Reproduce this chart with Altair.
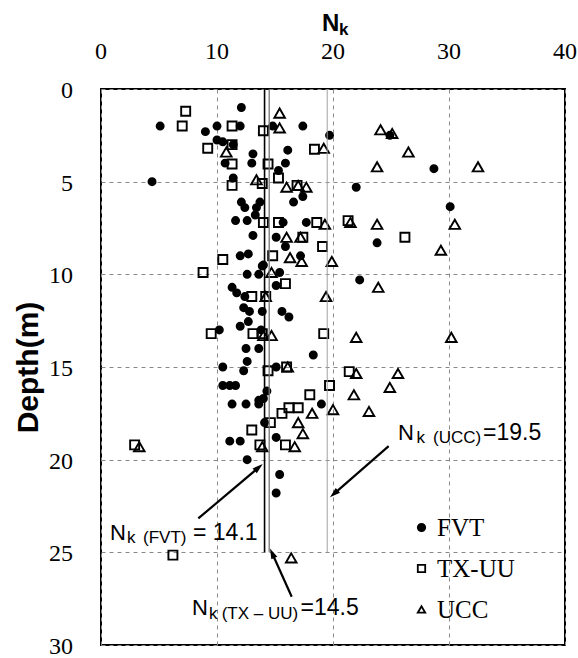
import altair as alt
import numpy as np
import pandas as pd

# ---------------- data ----------------
fvt_nk = [12.1, 5.1, 10.0, 9.0, 12.0, 14.8, 17.4, 10.0, 10.5, 11.4, 13.1, 16.1, 10.7, 13.0, 15.9,
          15.3, 4.4, 11.4, 17.4, 16.6, 12.1, 13.7, 12.4, 13.4, 13.3, 11.6, 12.6, 15.7, 17.7, 13.1,
          15.1, 15.9, 12.0, 12.7, 17.2, 14.0, 12.6, 13.6, 15.4, 19.7, 24.9, 28.7, 22.0, 30.1, 23.8,
          22.3, 11.3, 11.7, 15.1, 12.4, 12.3, 12.8, 13.9, 15.6, 16.2, 12.7, 12.0, 10.2, 13.8, 12.5,
          13.6, 18.3, 12.6, 12.3, 10.5, 15.1, 10.5, 11.1, 11.6, 14.3, 11.3, 12.5, 13.6, 14.0, 13.6,
          19.0, 14.1, 15.1, 11.1, 12.0, 12.6, 15.4, 15.1, 13.9]
fvt_depth = [1.0, 2.0, 2.0, 2.3, 2.0, 2.0, 2.0, 2.75, 2.85, 3.0, 3.5, 3.3, 4.0, 4.0, 4.0,
             4.4, 5.0, 4.8, 5.8, 6.1, 6.1, 6.1, 6.4, 6.4, 6.8, 7.1, 7.1, 7.2, 7.2, 7.9,
             8.0, 8.5, 9.0, 8.9, 9.0, 9.5, 10.0, 10.0, 9.9, 2.5, 2.5, 4.3, 5.3, 6.35, 8.3,
             10.3, 10.7, 11.0, 10.6, 11.2, 11.8, 12.0, 12.0, 12.0, 12.3, 12.55, 12.8, 13.0, 13.0, 14.0,
             14.0, 14.35, 14.7, 15.2, 15.0, 15.0, 16.0, 16.0, 16.0, 16.3, 17.0, 17.0, 16.8, 16.7, 17.0,
             17.0, 18.0, 18.8, 19.0, 19.0, 20.0, 20.8, 21.8, 9.55]

txuu_nk = [7.3, 7.0, 11.3, 14.0, 9.2, 11.3, 11.3, 14.4, 15.3, 11.3, 13.9, 16.9, 18.4, 14.0, 15.3,
           18.6, 17.4, 19.1, 14.8, 10.5, 8.8, 21.3, 26.2, 15.9, 13.0, 14.2, 9.5, 13.1, 13.9, 19.2,
           14.4, 16.0, 19.7, 18.0, 16.2, 17.0, 15.6, 14.6, 13.0, 13.7, 15.9, 2.9, 21.4, 6.2]
txuu_depth = [1.2, 2.0, 2.0, 2.25, 3.2, 3.0, 4.05, 4.05, 4.8, 5.2, 5.1, 5.2, 3.25, 7.2, 7.2,
              7.2, 8.0, 8.5, 9.0, 9.2, 9.9, 7.1, 8.0, 10.5, 11.2, 11.2, 13.2, 13.2, 13.2, 13.2,
              15.2, 15.0, 16.0, 16.5, 17.2, 17.2, 17.5, 18.0, 18.4, 19.2, 19.2, 19.2, 15.25, 25.15]

ucc_nk = [15.4, 15.4, 19.2, 10.8, 13.4, 16.0, 17.0, 17.7, 19.3, 16.0, 17.2, 16.3, 17.3, 14.7, 24.1,
          25.1, 26.5, 23.8, 32.5, 21.5, 23.8, 30.5, 29.3, 19.9, 19.4, 14.2, 14.0, 14.7, 16.1, 18.2,
          17.0, 17.4, 16.7, 13.9, 3.3, 20.0, 23.9, 22.0, 30.2, 22.0, 25.6, 24.9, 21.8, 23.1, 16.4]
ucc_depth = [1.3, 2.1, 3.2, 3.4, 4.9, 5.3, 5.2, 5.3, 7.3, 8.0, 8.0, 9.1, 9.3, 9.9, 2.2,
             2.4, 3.4, 4.2, 4.2, 7.2, 7.3, 7.3, 8.7, 9.3, 11.2, 11.2, 13.3, 13.3, 15.0, 17.5,
             18.0, 18.6, 19.3, 19.3, 19.3, 17.3, 10.7, 13.4, 13.4, 15.35, 15.35, 16.1, 16.5, 17.4, 25.3]

series_names = ["FVT", "TX-UU", "UCC"]

# average Nk lines
nk_line_values = [14.1, 14.5, 19.5]
nk_line_top = [0, 0, 0]
nk_line_bottom = [25, 25, 25]
nk_line_colors = ["black", "#777777", "#a0a0a0"]
nk_line_widths = [1.6, 1.3, 1.0]

# annotation text pieces
ann_text = ["N", "k", "(UCC)", "=19.5",
            "N", "k", "(FVT)", "= 14.1",
            "N", "k", "(TX \u2013 UU)", "=14.5"]
ann_nk = [25.6, 27.2, 28.62, 32.93,
          0.78, 2.24, 3.62, 7.93,
          7.84, 9.31, 10.4, 17.2]
ann_depth = [18.94, 19.1, 19.1, 18.94,
             24.34, 24.5, 24.5, 24.34,
             28.39, 28.6, 28.6, 28.39]
ann_size = [22, 17, 17, 23,
            22, 17, 17, 23,
            22, 17, 17, 23]

# arrows: start -> tip
arr_nk0 = [24.8, 8.39, 16.44]
arr_d0 = [19.27, 23.17, 27.4]
arr_nk1 = [19.74, 13.94, 14.57]
arr_d1 = [22.03, 20.24, 24.79]

x_ticks = [0, 10, 20, 30, 40]
y_ticks = [0, 5, 10, 15, 20, 25, 30]

# ---------------- layout ----------------
W, H = 464, 556
SX, SY = W / 40.0, H / 30.0
HEAD_SIZE = 110
HEAD_SHAPE = "M0,-1L0.62,1L-0.62,1Z"
SERIF = "Liberation Serif"
SANS = "Liberation Sans"

df = pd.concat([
    pd.DataFrame({"nk": fvt_nk, "depth": fvt_depth, "series": "FVT"}),
    pd.DataFrame({"nk": txuu_nk, "depth": txuu_depth, "series": "TX-UU"}),
    pd.DataFrame({"nk": ucc_nk, "depth": ucc_depth, "series": "UCC"}),
], ignore_index=True)

xscale = alt.Scale(domain=[0, 40], nice=False, zero=False)
yscale = alt.Scale(domain=[0, 30], nice=False, zero=False, reverse=True)

xaxis = alt.Axis(orient="top", values=x_ticks, ticks=False, domain=False, labels=False,
                 grid=True, gridDash=[4, 4], gridColor="#8a8a8a", gridWidth=1)
yaxis = alt.Axis(values=y_ticks, ticks=False, domain=False, labels=False,
                 grid=True, gridDash=[4, 4], gridColor="#8a8a8a", gridWidth=1,
                 titleFont=SANS, titleFontSize=30, titleFontWeight="bold",
                 titleColor="black", titlePadding=58)


def X(field):
    return alt.X(field, scale=xscale, axis=xaxis, title=None)


def Y(field):
    return alt.Y(field, scale=yscale, axis=yaxis, title="Depth(m)")


legend_def = dict(
    orient="none", legendX=308, legendY=426, title=None, padding=0,
    labelFont=SERIF, labelFontSize=25, labelColor="black",
    rowPadding=15, symbolSize=55, labelOffset=3,
    symbolStrokeColor="black", symbolStrokeWidth=1.8,
)

points = alt.Chart(df).mark_point(opacity=1, strokeWidth=1.9).encode(
    x=X("nk:Q"),
    y=Y("depth:Q"),
    shape=alt.Shape("series:N", scale=alt.Scale(domain=series_names,
                                                range=["circle", "square", "triangle-up"]),
                    legend=alt.Legend(**legend_def)),
    fill=alt.Fill("series:N", scale=alt.Scale(domain=series_names,
                                              range=["black", "transparent", "transparent"]),
                  legend=alt.Legend(**legend_def)),
    stroke=alt.Stroke("series:N", scale=alt.Scale(domain=series_names,
                                                  range=["black", "black", "black"]),
                      legend=alt.Legend(**legend_def)),
    size=alt.Size("series:N", scale=alt.Scale(domain=series_names, range=[50, 112, 150]),
                  legend=None),
)

lines_df = pd.DataFrame({"nk": nk_line_values, "depth": nk_line_top, "depth2": nk_line_bottom,
                         "col": nk_line_colors, "sw": nk_line_widths})
nk_lines = alt.Chart(lines_df).mark_rule().encode(
    x=X("nk:Q"),
    y=Y("depth:Q"),
    y2="depth2:Q",
    color=alt.Color("col:N", scale=None),
    strokeWidth=alt.StrokeWidth("sw:Q", scale=None),
)

# arrows
a0x, a0d = np.array(arr_nk0), np.array(arr_d0)
a1x, a1d = np.array(arr_nk1), np.array(arr_d1)
dxp = (a1x - a0x) * SX
dyp = (a1d - a0d) * SY
L = np.hypot(dxp, dyp)
ux, uy = dxp / L, dyp / L
ang = np.degrees(np.arctan2(dxp, -dyp)) % 360
r = np.sqrt(HEAD_SIZE) / 2
hx = a1x - ux * r / SX
hd = a1d - uy * r / SY
arrows_df = pd.DataFrame({"nk": a0x, "depth": a0d, "nk2": hx, "depth2": hd, "ang": ang})

arrow_lines = alt.Chart(arrows_df).mark_rule(color="black", strokeWidth=2.2).encode(
    x=X("nk:Q"),
    y=Y("depth:Q"),
    x2="nk2:Q", y2="depth2:Q",
)
arrow_heads = alt.Chart(arrows_df).mark_point(
    shape=HEAD_SHAPE, filled=True, color="black", opacity=1, size=HEAD_SIZE, strokeWidth=0
).encode(
    x=X("nk2:Q"),
    y=Y("depth2:Q"),
    angle=alt.Angle("ang:Q", scale=None),
)

ann_df = pd.DataFrame({"nk": ann_nk, "depth": ann_depth, "txt": ann_text, "fs": ann_size})
ann = alt.Chart(ann_df).mark_text(align="left", baseline="alphabetic",
                                  font=SANS, color="black").encode(
    x=X("nk:Q"),
    y=Y("depth:Q"),
    text="txt:N",
    size=alt.Size("fs:Q", scale=None),
)

# tick labels (serif, as in the original figure)
xtick_df = pd.DataFrame({"nk": x_ticks, "lab": [str(v) for v in x_ticks]})
xtick_labels = alt.Chart(xtick_df).mark_text(
    align="center", baseline="middle", font=SERIF, fontSize=24, color="black"
).encode(x=X("nk:Q"), y=alt.value(-37), text="lab:N")

ytick_df = pd.DataFrame({"depth": y_ticks, "lab": [str(v) for v in y_ticks]})
ytick_labels = alt.Chart(ytick_df).mark_text(
    align="right", baseline="middle", font=SERIF, fontSize=24, color="black", dy=2
).encode(x=alt.value(-28), y=Y("depth:Q"), text="lab:N")

# x axis title N_k (N with subscript k), placed above the top axis labels
title_df = pd.DataFrame({"t": ["N"]})
xtitle_n = alt.Chart(title_df).mark_text(
    align="left", baseline="alphabetic", font=SANS, fontWeight="bold",
    fontSize=24, color="black", text="N"
).encode(x=alt.value(221), y=alt.value(-58))
xtitle_k = alt.Chart(title_df).mark_text(
    align="left", baseline="alphabetic", font=SANS, fontWeight="bold",
    fontSize=17, color="black", text="k"
).encode(x=alt.value(238), y=alt.value(-54))

chart = alt.layer(points, nk_lines, arrow_lines, arrow_heads, ann,
                  xtick_labels, ytick_labels, xtitle_n, xtitle_k).resolve_scale(
    size="independent"
).properties(
    width=W, height=H,
    autosize=alt.AutoSizeParams(type="none"),
    padding={"left": 101, "top": 89, "right": 13, "bottom": 13},
).configure_view(
    stroke="black", strokeWidth=2
)

chart.save("out.html", embed_options={"renderer": "svg", "actions": False})
